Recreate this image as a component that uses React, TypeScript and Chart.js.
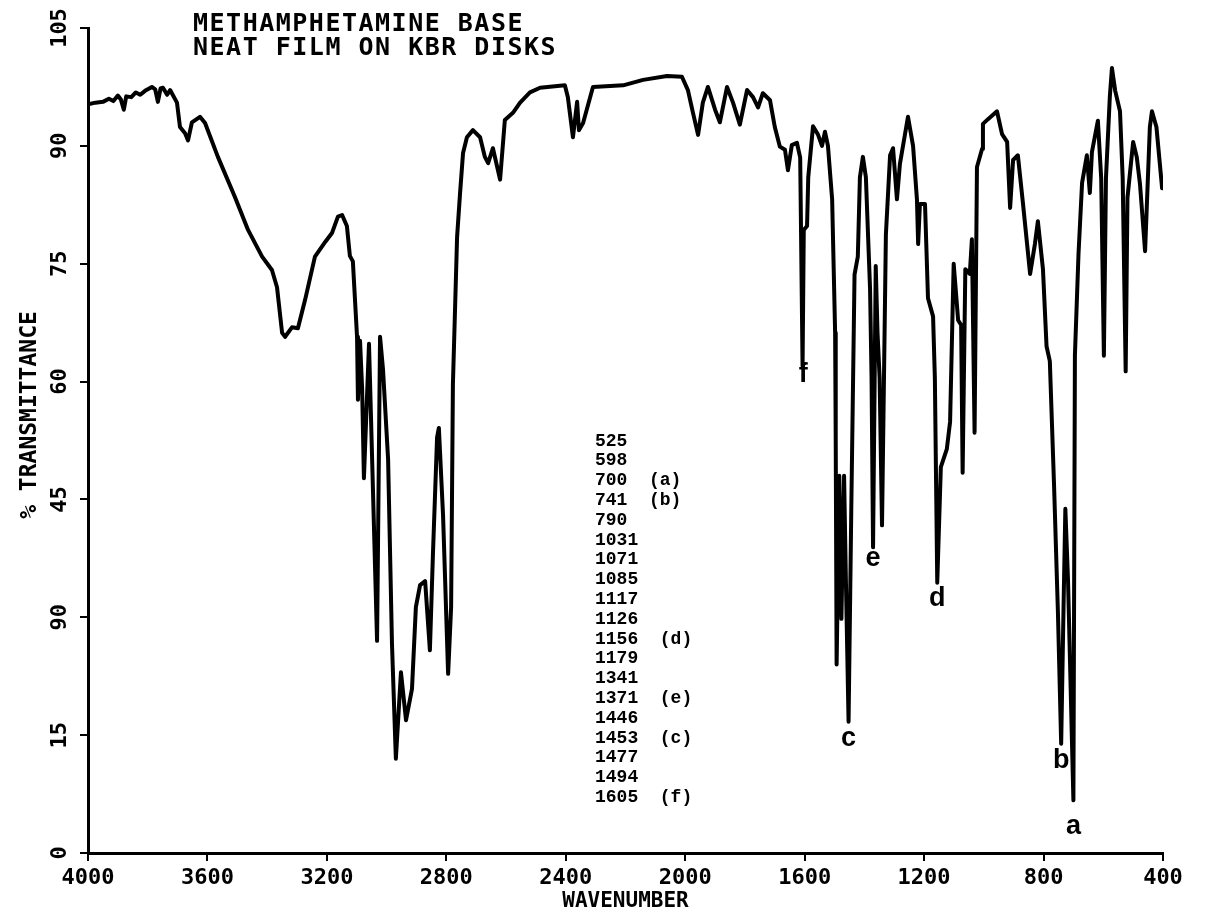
import React, { useEffect, useRef } from 'react';
import { Chart, registerables } from 'chart.js';

Chart.register(...registerables);

// Spectrum (wavenumber in cm-1, % transmittance)
const wavenumbers = [
  4000, 3975, 3950, 3930, 3915, 3900, 3890, 3880, 3872, 3855, 3840, 3825, 3809, 3786, 3775, 3766, 3757, 3749,
  3735, 3725, 3702, 3692, 3675, 3665, 3652, 3625, 3608, 3565, 3508, 3464, 3417, 3384, 3367, 3350, 3340, 3317,
  3297, 3273, 3240, 3205, 3183, 3163, 3149, 3133, 3123, 3113, 3099, 3096, 3089, 3082, 3076, 3059, 3032, 3022,
  3012, 2995, 2982, 2969, 2952, 2935, 2915, 2902, 2888, 2871, 2855, 2845, 2831, 2825, 2811, 2794, 2784, 2778,
  2764, 2754, 2744, 2731, 2711, 2687, 2671, 2660, 2644, 2620, 2604, 2577, 2553, 2520, 2486, 2403, 2393, 2376,
  2362, 2356, 2342, 2309, 2208, 2141, 2061, 2011, 1991, 1974, 1957, 1941, 1924, 1900, 1884, 1860, 1840, 1817,
  1793, 1773, 1756, 1740, 1716, 1700, 1683, 1666, 1656, 1643, 1626, 1615, 1607, 1603, 1592, 1588, 1572, 1555,
  1542, 1532, 1522, 1508, 1498, 1496, 1493, 1484, 1477, 1468, 1462, 1453, 1444, 1433, 1422, 1415, 1405, 1395,
  1381, 1376, 1371, 1362, 1356, 1349, 1341, 1328, 1314, 1304, 1291, 1281, 1254, 1237, 1224, 1220, 1214, 1197,
  1187, 1170, 1164, 1156, 1144, 1124, 1113, 1101, 1086, 1076, 1071, 1062, 1047, 1040, 1031, 1023, 1006, 1003,
  986, 956, 939, 922, 912, 902, 886, 869, 845, 829, 819, 802, 790, 779, 765, 752, 741, 733, 727, 718, 700, 695,
  683, 671, 655, 645, 638, 618, 607, 598, 591, 578, 571, 560, 544, 535, 525, 519, 500, 488, 477, 460, 444, 437,
  422, 403,
];
const transmittance = [
  95.3, 95.5, 95.6, 96.0, 95.7, 96.4, 95.9, 94.6, 96.3, 96.2, 96.8, 96.5, 97.0, 97.5, 97.2, 95.6, 97.3, 97.4,
  96.5, 97.1, 95.5, 92.4, 91.6, 90.7, 93.0, 93.7, 92.9, 88.6, 83.5, 79.3, 75.9, 74.2, 72.0, 66.2, 65.7, 66.9,
  66.8, 70.4, 75.9, 77.8, 78.9, 81.0, 81.2, 79.8, 76.0, 75.3, 65.7, 57.7, 65.2, 59.1, 47.7, 64.8, 27.0, 65.7,
  61.5, 50.1, 26.6, 12.0, 23.0, 16.9, 20.9, 31.3, 34.1, 34.6, 25.8, 37.9, 52.9, 54.1, 43.0, 22.8, 31.3, 59.6,
  78.4, 84.0, 89.1, 91.1, 92.0, 91.1, 88.6, 87.8, 89.7, 85.7, 93.3, 94.2, 95.5, 96.8, 97.4, 97.7, 96.2, 91.1,
  95.6, 92.0, 92.9, 97.5, 97.7, 98.4, 98.9, 98.8, 97.1, 94.2, 91.4, 95.5, 97.5, 94.6, 93.0, 97.5, 95.5, 92.7,
  97.1, 96.2, 94.9, 96.7, 95.8, 92.4, 89.9, 89.5, 86.9, 90.1, 90.4, 88.5, 62.0, 79.3, 79.8, 86.0, 92.5, 91.4,
  90.0, 91.8, 90.0, 83.2, 66.2, 52.6, 24.0, 48.0, 29.8, 48.0, 34.9, 16.7, 43.4, 73.6, 75.9, 86.0, 88.6, 86.0,
  71.8, 60.5, 38.9, 74.7, 66.2, 60.5, 41.7, 78.7, 88.8, 89.7, 83.2, 87.7, 93.7, 90.0, 83.2, 77.5, 82.6, 82.6,
  70.6, 68.3, 60.5, 34.4, 49.1, 51.4, 54.9, 75.0, 67.8, 67.2, 48.4, 74.3, 73.7, 78.1, 53.5, 87.3, 89.6, 92.8,
  93.4, 94.4, 91.5, 90.5, 82.1, 88.2, 88.8, 82.7, 73.7, 77.5, 80.4, 74.3, 64.5, 62.6, 47.0, 30.8, 13.9, 31.4,
  43.8, 34.6, 6.7, 63.3,
  76.2, 85.3, 88.8, 84.0, 89.2, 93.2, 85.9, 63.3, 85.9, 96.3, 99.9, 97.0, 94.4, 85.9, 61.3, 83.4, 90.5, 88.6,
  85.1, 76.6, 92.4, 94.4,
  92.4, 84.6,
];

const xTickValues = [4000, 3600, 3200, 2800, 2400, 2000, 1600, 1200, 800, 400];
const xTickLabels = ['4000', '3600', '3200', '2800', '2400', '2000', '1600', '1200', '800', '400'];
const yTickValues = [0, 15, 30, 45, 60, 75, 90, 105];
const yTickLabels = ['0', '15', '90', '45', '60', '75', '90', '105'];

const titleLines = ['METHAMPHETAMINE BASE', 'NEAT FILM ON KBR DISKS'];
const xAxisTitle = 'WAVENUMBER';
const yAxisTitle = '% TRANSMITTANCE';

const peakList = [
  '525', '598', '700  (a)', '741  (b)', '790', '1031', '1071', '1085', '1117', '1126', '1156  (d)', '1179',
  '1341', '1371  (e)', '1446', '1453  (c)', '1477', '1494', '1605  (f)',
];

const bandLetters = ['a', 'b', 'c', 'd', 'e', 'f'];
const bandLetterWn = [700, 741, 1453, 1156, 1371, 1605];
const bandLetterT = [2.4, 10.8, 13.6, 31.4, 36.5, 60.0];

const PLOT_FONT = '"DejaVu Sans Mono"';

const overlayPlugin = {
  id: 'overlayText',
  afterDatasetsDraw(chart: any) {
    const { ctx, chartArea, scales } = chart;
    const xs = scales.x;
    const ys = scales.y;
    ctx.save();
    ctx.fillStyle = '#000';

    // Title block
    ctx.font = `bold 25px ${PLOT_FONT}`;
    (ctx as any).letterSpacing = '1.5px';
    ctx.textAlign = 'left';
    ctx.textBaseline = 'alphabetic';
    titleLines.forEach((t, i) => {
      ctx.fillText(t, chartArea.left + 105, chartArea.top + 3 + i * 24);
    });
    (ctx as any).letterSpacing = '0px';

    // Y axis title
    ctx.save();
    ctx.font = `bold 23px ${PLOT_FONT}`;
    ctx.translate(30, chartArea.top + 387);
    ctx.rotate(-Math.PI / 2);
    ctx.textAlign = 'center';
    ctx.textBaseline = 'middle';
    ctx.fillText(yAxisTitle, 0, 0);
    ctx.restore();

    // Peak list
    ctx.font = 'bold 18px "Liberation Mono"';
    ctx.textAlign = 'left';
    ctx.textBaseline = 'middle';
    peakList.forEach((t, i) => {
      ctx.fillText(t, chartArea.left + 507, chartArea.top + 413 + i * 19.8);
    });

    // Band letters
    ctx.font = 'bold 27px "Liberation Sans"';
    ctx.textAlign = 'center';
    ctx.textBaseline = 'alphabetic';
    bandLetters.forEach((l, i) => {
      ctx.fillText(l, xs.getPixelForValue(bandLetterWn[i]), ys.getPixelForValue(bandLetterT[i]));
    });
    ctx.restore();
  },
};

export default function App() {
  const ref = useRef<HTMLCanvasElement>(null);

  useEffect(() => {
    const canvas = ref.current;
    if (!canvas) return;
    const tickFont = { family: PLOT_FONT, size: 22, weight: 'bold' as const };
    const chart = new Chart(canvas, {
      type: 'line',
      data: {
        datasets: [
          {
            data: wavenumbers.map((w, i) => ({ x: w, y: transmittance[i] })),
            borderColor: '#000',
            borderWidth: 4,
            pointRadius: 0,
            tension: 0,
            fill: false,
            borderJoinStyle: 'round',
            borderCapStyle: 'round',
          },
        ],
      },
      options: {
        responsive: false,
        animation: false,
        devicePixelRatio: 1,
        layout: { padding: { top: 28, right: 49, left: 0, bottom: 0 } },
        plugins: { legend: { display: false }, tooltip: { enabled: false }, title: { display: false } },
        scales: {
          x: {
            type: 'linear',
            reverse: true,
            min: 400,
            max: 4000,
            afterBuildTicks: (s: any) => {
              s.ticks = xTickValues.map((v) => ({ value: v }));
            },
            afterFit: (s: any) => {
              s.height = 61;
            },
            ticks: {
              autoSkip: false,
              maxRotation: 0,
              minRotation: 0,
              padding: 4,
              color: '#000',
              font: tickFont,
              callback: (_v: any, i: number) => xTickLabels[i],
            },
            grid: { drawOnChartArea: false, drawTicks: true, tickLength: 8, color: '#000', lineWidth: 2 },
            border: { display: true, color: '#000', width: 3 },
            title: {
              display: true,
              text: xAxisTitle,
              color: '#000',
              font: { family: PLOT_FONT, size: 21, weight: 'bold' },
              padding: { top: 0, bottom: 0 },
            },
          },
          y: {
            type: 'linear',
            min: 0,
            max: 105,
            afterBuildTicks: (s: any) => {
              s.ticks = yTickValues.map((v) => ({ value: v }));
            },
            afterFit: (s: any) => {
              s.width = 88;
            },
            ticks: {
              autoSkip: false,
              minRotation: 90,
              maxRotation: 90,
              crossAlign: 'center',
              padding: 0,
              color: '#000',
              font: tickFont,
              callback: (_v: any, i: number) => yTickLabels[i],
            },
            grid: { drawOnChartArea: false, drawTicks: true, tickLength: 8, color: '#000', lineWidth: 2 },
            border: { display: true, color: '#000', width: 3 },
            title: { display: false },
          },
        },
      },
      plugins: [overlayPlugin],
    } as any);
    return () => chart.destroy();
  }, []);

  return (
    <div style={{ position: 'fixed', left: 0, top: 0, width: 1212, height: 914, background: '#fff' }}>
      <canvas ref={ref} width={1212} height={914} style={{ display: 'block', width: 1212, height: 914 }} />
    </div>
  );
}
